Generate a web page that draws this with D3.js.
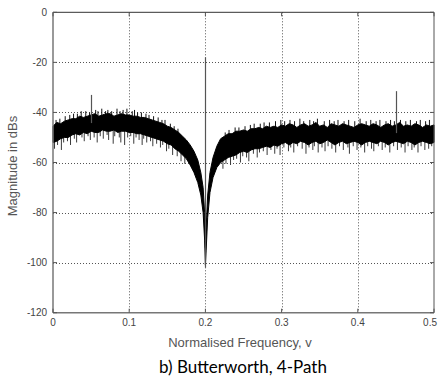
<!DOCTYPE html>
<html><head><meta charset="utf-8">
<script src="https://cdn.jsdelivr.net/npm/d3@7"></script>
<style>html,body{margin:0;padding:0;background:#fff;}svg{display:block;}</style>
</head><body>
<svg id="c" width="438" height="381"></svg>
<script>
const xTicks = [0, 0.1, 0.2, 0.3, 0.4, 0.5];
const xTickLabels = ["0", "0.1", "0.2", "0.3", "0.4", "0.5"];
const yTicks = [0, -20, -40, -60, -80, -100, -120];
const yTickLabels = ["0", "-20", "-40", "-60", "-80", "-100", "-120"];

// noise band: frequency, dense top and dense bottom (dB)
const freq = [0,0.005,0.01,0.015,0.02,0.025,0.03,0.035,0.04,0.045,0.05,0.055,0.06,0.065,0.07,0.075,0.08,0.085,0.09,0.095,0.1,0.105,0.11,0.115,0.12,0.125,0.13,0.135,0.14,0.145,0.15,0.155,0.16,0.165,0.17,0.175,0.18,
0.185,0.19,0.194,0.197,0.199,0.2,0.201,0.203,0.206,0.21,0.215,0.22,
0.225,0.23,0.235,0.24,0.245,0.25,0.255,0.26,0.265,0.27,0.275,0.28,0.285,0.29,0.295,0.3,0.305,0.31,0.315,0.32,0.325,0.33,0.335,0.34,0.345,0.35,0.355,0.36,0.365,0.37,0.375,0.38,0.385,0.39,0.395,0.4,0.405,0.41,0.415,0.42,0.425,0.43,0.435,0.44,0.445,0.45,0.455,0.46,0.465,0.47,0.475,0.48,0.485,0.49,0.495,0.5];
const bandTop = [-45.5,-44,-44.5,-43.5,-43,-42.5,-42.5,-41.5,-42,-41.5,-41,-40.5,-41.5,-41,-40.5,-40.5,-41.5,-41,-40.5,-41,-41,-41.5,-41.5,-42,-42,-42.5,-43,-43.5,-44,-44.5,-45.5,-46,-47,-48,-49.5,-51,-53,
-55.5,-59,-64,-70,-80,-94,-86,-73,-64,-58,-53.5,-50.5,
-49.5,-48.5,-48.5,-47.5,-47.5,-47,-47.5,-46.5,-46.5,-46,-46.5,-45.5,-46,-45.5,-46,
-45,-45.5,-44.5,-45,-46,-45,-44.5,-45.5,-45,-44,-45.5,-45,-46,-44.5,-45,-45.5,-44.5,-45,-45.5,-46,-45,-44.5,-45,-45.5,-44.5,-45,-46,-45,-44.5,-45.5,-45,-44,-45.5,-45,-45.5,-44.5,-45,-46,-45,-45.5,-45];
const bandBottom = [-52,-51.5,-50.5,-50,-50,-49,-48.5,-49,-48,-48.5,-47.5,-48,-48,-47,-47.5,-47.5,-47,-48,-47.5,-47.5,-48,-48,-48.5,-48.5,-49,-49.5,-50,-50.5,-51,-51.5,-52.5,-53,-54.5,-55.5,-57,-58.5,-61,
-64,-68,-73,-80,-91,-101,-95,-82,-72,-66,-62,-60,
-59,-58,-57.5,-57,-56,-55.5,-56,-55,-54.5,-54.5,-54,-53.5,-54,-53,-53.5,
-52.5,-52,-53,-52,-52.5,-51.5,-52,-53,-52,-51.5,-52.5,-52,-51,-52,-53,-52,-51.5,-52.5,-52,-51.5,-52,-53,-52,-51.5,-52,-52.5,-51.5,-52,-53,-52,-51.5,-52,-52.5,-51.5,-52,-53,-52,-51.5,-52,-52.5,-52];

// fringe spikes outside the dense band
const downSpikeF = [0.002,0.006,0.011,0.014,0.019,0.023,0.028,0.031,0.038,0.041,0.046,0.049,0.054,0.058,0.062,0.066,0.071,0.073,0.079,0.081,0.087,0.089,0.094,0.098,0.102,0.106,0.109,0.113,0.117,0.119,0.123,0.128,0.131,0.136,0.141,0.144,0.149,0.152,0.157,0.163,0.168,0.173,
0.223,0.227,0.233,0.237,0.241,0.246,0.249,0.254,0.257,0.263,0.268,0.271,0.276,0.281,0.286,0.291,0.294,0.298,0.303,0.309,0.312,0.316,0.321,0.327,0.332,0.336,0.341,0.343,0.348,0.353,0.357,0.361,0.366,0.371,0.376,0.381,0.387,0.389,0.394,0.399,0.404,0.409,0.413,0.418,0.421,0.427,0.432,0.436,0.442,0.447,0.452,0.457,0.462,0.466,0.471,0.474,0.479,0.483,0.488,0.493,0.497];
const downSpikeDb = [-54.5,-53,-55,-52,-51.5,-53,-50.5,-52,-50,-51.5,-49.5,-51,-50,-52,-49.5,-50.5,-49,-51,-52.5,-49.5,-50,-52,-53,-50,-49.5,-52.5,-50,-51,-53,-50.5,-52,-51.5,-53.5,-52.5,-54,-53,-55.5,-54.5,-57,-57.5,-59.5,-60.5,
-62.5,-60.5,-61,-59,-58.5,-60,-57.5,-58,-59.5,-56.5,-58,-56,-55.5,-57,-55,-56.5,-54.5,-57,-54,-55.5,-54,-56,-53.5,-54.5,-56.5,-54,-55,-53.5,-56,-54,-55.5,-53.5,-54.5,-56,-53.5,-55,-54,-56.5,-53.5,-55,-54,-56,-53.5,-54.5,-55.5,-53.5,-55,-54,-56,-53.5,-55,-54,-56,-53.5,-55,-54,-56,-53.5,-55,-54.5,-53.5];
const upSpikeF = [0.004,0.009,0.016,0.022,0.027,0.032,0.037,0.043,0.048,0.056,0.059,0.064,0.069,0.072,0.077,0.084,0.088,0.092,0.097,0.104,0.107,0.111,0.116,0.122,0.126,0.132,0.138,0.143,0.147,0.154,0.159,0.164,
0.226,0.231,0.239,0.244,0.252,0.259,0.264,0.272,0.277,0.284,0.292,0.299,0.304,0.311,0.317,0.324,0.329,0.337,0.342,0.347,0.356,0.363,0.369,0.374,0.382,0.388,0.396,0.403,0.411,0.417,0.424,0.429,0.437,0.443,0.448,0.456,0.463,0.469,0.477,0.482,0.489,0.494];
const upSpikeDb = [-43,-42.5,-41.5,-41,-40.5,-40.5,-39.5,-39.5,-40,-39,-39.5,-38.5,-39.5,-39,-39.5,-38.5,-39.5,-39,-38.5,-39.5,-39,-40,-40,-40.5,-41,-41.5,-42,-43,-43,-44.5,-45.5,-46.5,
-48,-47,-46,-46,-45.5,-45,-44.5,-44.5,-44,-44,-43.5,-43,-43.5,-43,-43.5,-42.5,-43.5,-43,-43.5,-42.5,-43.5,-43,-43.5,-43,-43.5,-43,-43.5,-42.5,-43.5,-43,-43.5,-43,-43.5,-43,-43.5,-43,-43.5,-43,-43.5,-43,-43.5,-43];

// tones
const toneF = [0.05, 0.2, 0.45];
const toneDb = [-33, -18, -31.5];
const notchFloorDb = -102;

const svg = d3.select("#c");
const L = 53, R = 434, T = 12.3, B = 312.7;
const x = d3.scaleLinear().domain([0, 0.5]).range([L, R]);
const y = d3.scaleLinear().domain([-120, 0]).range([B, T]);

// grid
const g = svg.append("g");
g.selectAll(".vg").data(xTicks.slice(1, -1)).enter().append("line")
  .attr("x1", d => Math.round(x(d)) + 0.5).attr("x2", d => Math.round(x(d)) + 0.5).attr("y1", T).attr("y2", B)
  .attr("stroke", "#555").attr("stroke-width", 1).attr("stroke-dasharray", "1,2");
g.selectAll(".hg").data(yTicks.slice(1, -1)).enter().append("line")
  .attr("y1", d => Math.round(y(d)) + 0.5).attr("y2", d => Math.round(y(d)) + 0.5).attr("x1", L).attr("x2", R)
  .attr("stroke", "#555").attr("stroke-width", 1).attr("stroke-dasharray", "1,2");

const band = freq.map((f, i) => ({f, t: bandTop[i], b: bandBottom[i]}));
const bis = d3.bisector(d => d.f).left;
function mid(f) {
  let i = Math.max(1, Math.min(band.length - 1, bis(band, f)));
  const a = band[i - 1], c = band[i];
  const k = (f - a.f) / (c.f - a.f);
  return ((a.t + a.b) / 2) * (1 - k) + ((c.t + c.b) / 2) * k;
}

const plot = svg.append("g");
plot.selectAll(".ds").data(downSpikeF).enter().append("line")
  .attr("x1", d => x(d)).attr("x2", d => x(d))
  .attr("y1", d => y(mid(d))).attr("y2", (d, i) => y(downSpikeDb[i]))
  .attr("stroke", "#3a3a3a").attr("stroke-width", 1);
plot.selectAll(".us").data(upSpikeF).enter().append("line")
  .attr("x1", d => x(d)).attr("x2", d => x(d))
  .attr("y1", d => y(mid(d))).attr("y2", (d, i) => y(upSpikeDb[i]))
  .attr("stroke", "#111").attr("stroke-width", 1);

plot.append("path").datum(band)
  .attr("d", d3.area().x(d => x(d.f)).y0(d => y(d.b)).y1(d => y(d.t)))
  .attr("fill", "#000").attr("stroke", "#000").attr("stroke-width", 1).attr("stroke-linejoin", "round");

plot.selectAll(".tone").data(toneF).enter().append("line")
  .attr("x1", d => Math.round(x(d)) + 0.5).attr("x2", d => Math.round(x(d)) + 0.5)
  .attr("y1", (d, i) => y(toneDb[i]))
  .attr("y2", (d, i) => i === 1 ? y(notchFloorDb) : y(mid(d)))
  .attr("stroke", "#555").attr("stroke-width", 1.2);

// box
svg.append("line").attr("x1", L).attr("x2", R).attr("y1", T).attr("y2", T).attr("stroke", "#333").attr("stroke-width", 1);
svg.append("line").attr("x1", R).attr("x2", R).attr("y1", T).attr("y2", B).attr("stroke", "#555").attr("stroke-width", 1);
svg.append("line").attr("x1", L).attr("x2", L).attr("y1", T).attr("y2", B).attr("stroke", "#777").attr("stroke-width", 1.5);
svg.append("line").attr("x1", L).attr("x2", R).attr("y1", B).attr("y2", B).attr("stroke", "#777").attr("stroke-width", 1.5);

// ticks inside
svg.selectAll(".xt").data(xTicks).enter().append("line")
  .attr("x1", d => x(d)).attr("x2", d => x(d)).attr("y1", B).attr("y2", B - 4).attr("stroke", "#555");
svg.selectAll(".xt2").data(xTicks).enter().append("line")
  .attr("x1", d => x(d)).attr("x2", d => x(d)).attr("y1", T).attr("y2", T + 4).attr("stroke", "#555");
svg.selectAll(".yt").data(yTicks).enter().append("line")
  .attr("y1", d => y(d)).attr("y2", d => y(d)).attr("x1", L).attr("x2", L + 4).attr("stroke", "#555");
svg.selectAll(".yt2").data(yTicks).enter().append("line")
  .attr("y1", d => y(d)).attr("y2", d => y(d)).attr("x1", R).attr("x2", R - 4).attr("stroke", "#555");

const font = "'Liberation Sans', Arial, sans-serif";
svg.selectAll(".xl").data(xTicks).enter().append("text")
  .attr("x", (d, i) => i === xTicks.length - 1 ? 437 : x(d)).attr("y", B + 13)
  .attr("text-anchor", (d, i) => i === xTicks.length - 1 ? "end" : "middle")
  .attr("font-family", font).attr("font-size", 10).attr("fill", "#444")
  .text((d, i) => xTickLabels[i]);
svg.selectAll(".yl").data(yTicks).enter().append("text")
  .attr("x", L - 6).attr("y", d => y(d) + 3.5).attr("text-anchor", "end")
  .attr("font-family", font).attr("font-size", 10).attr("fill", "#444")
  .text((d, i) => yTickLabels[i]);

svg.append("text").attr("x", 240).attr("y", 347).attr("text-anchor", "middle")
  .attr("font-family", font).attr("font-size", 13).attr("fill", "#555")
  .text("Normalised Frequency, v");
svg.append("text").attr("transform", "translate(17,166) rotate(-90)").attr("text-anchor", "middle")
  .attr("font-family", font).attr("font-size", 13).attr("fill", "#555")
  .text("Magnitude in dBs");
svg.append("text").attr("x", 243).attr("y", 373).attr("text-anchor", "middle")
  .attr("font-family", "Lato, 'Open Sans', sans-serif").attr("font-size", 17).attr("fill", "#000")
  .text("b) Butterworth, 4-Path");
</script>
</body></html>
